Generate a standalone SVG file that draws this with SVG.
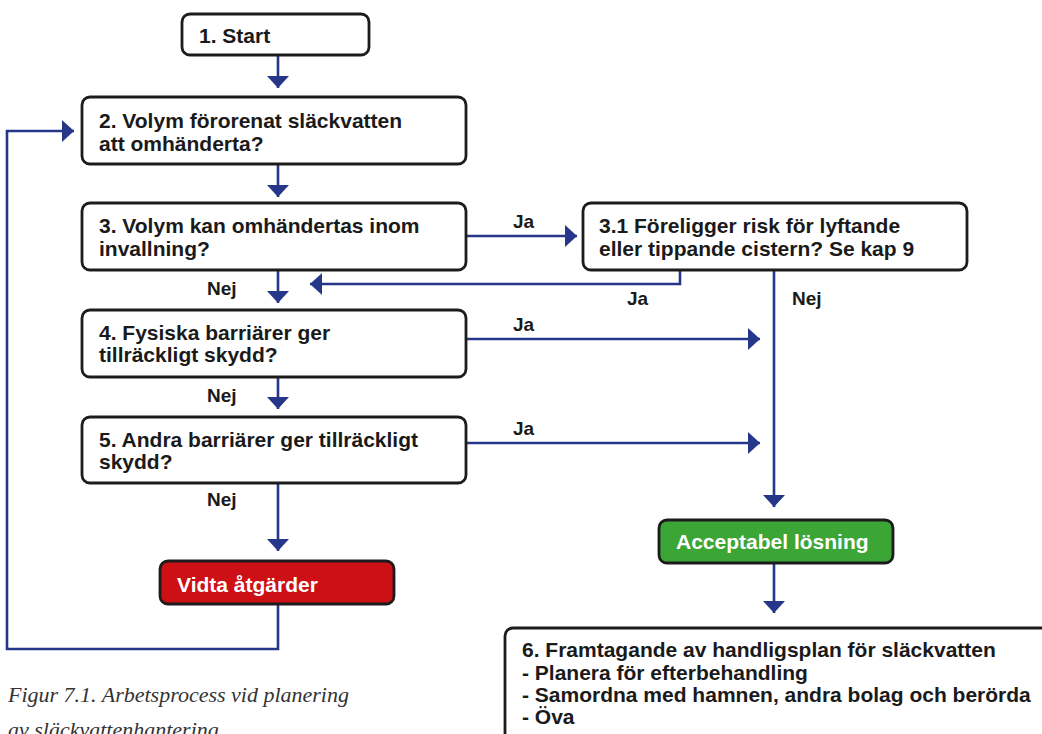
<svg xmlns="http://www.w3.org/2000/svg" width="1042" height="734" viewBox="0 0 1042 734">
<style>
.box{fill:#fff;stroke:#1c1c1c;stroke-width:2.8}
.red{fill:#cc1016;stroke:#1c1c1c;stroke-width:2.8}
.green{fill:#3ba535;stroke:#1c1c1c;stroke-width:2.8}
.t{font-family:"Liberation Sans",Arial,sans-serif;font-weight:bold;font-size:21px;fill:#1a1a1a}
.w{font-family:"Liberation Sans",Arial,sans-serif;font-weight:bold;font-size:21px;fill:#fff}
.lbl{font-family:"Liberation Sans",Arial,sans-serif;font-weight:bold;font-size:19px;fill:#1a1a1a}
.c{fill:none;stroke:#26378a;stroke-width:2.6}
.cap{font-family:"Liberation Serif","Times New Roman",serif;font-style:italic;font-size:22px;fill:#333}
</style>
<defs>
<marker id="ah" viewBox="0 0 12 22" refX="12" refY="11" markerWidth="12" markerHeight="22" orient="auto" markerUnits="userSpaceOnUse">
<path d="M0,0 L12,11 L0,22 z" fill="#26378a"/>
</marker>
</defs>
<rect width="1042" height="734" fill="#fff"/>
<g id="connectors">
<path class="c" d="M278,55 V88" marker-end="url(#ah)"/>
<path class="c" d="M278,164 V197" marker-end="url(#ah)"/>
<path class="c" d="M466,236 H577" marker-end="url(#ah)"/>
<path class="c" d="M278,270 V303" marker-end="url(#ah)"/>
<path class="c" d="M680,270 V284 H310" marker-end="url(#ah)"/>
<path class="c" d="M774,270 V507" marker-end="url(#ah)"/>
<path class="c" d="M466,339 H760" marker-end="url(#ah)"/>
<path class="c" d="M278,377 V409" marker-end="url(#ah)"/>
<path class="c" d="M466,443 H760" marker-end="url(#ah)"/>
<path class="c" d="M278,483 V551" marker-end="url(#ah)"/>
<path class="c" d="M278,604 V649 H7 V131 H74" marker-end="url(#ah)"/>
<path class="c" d="M774,563 V613" marker-end="url(#ah)"/>
<text class="lbl" x="513" y="228">Ja</text>
<text class="lbl" x="207" y="295">Nej</text>
<text class="lbl" x="627" y="305">Ja</text>
<text class="lbl" x="792" y="305">Nej</text>
<text class="lbl" x="513" y="331">Ja</text>
<text class="lbl" x="207" y="402">Nej</text>
<text class="lbl" x="513" y="435">Ja</text>
<text class="lbl" x="207" y="506">Nej</text>
</g>
<g id="n1">
<rect class="box" x="182" y="14" width="187" height="41" rx="8"/>
<text class="t" x="199" y="43">1. Start</text>
</g>
<g id="n2">
<rect class="box" x="82" y="97" width="384" height="67" rx="8"/>
<text class="t" x="99" y="128">2. Volym förorenat släckvatten</text>
<text class="t" x="99" y="151">att omhänderta?</text>
</g>
<g id="n3">
<rect class="box" x="82" y="203" width="384" height="67" rx="8"/>
<text class="t" x="99" y="233">3. Volym kan omhändertas inom</text>
<text class="t" x="99" y="256">invallning?</text>
</g>
<g id="n31">
<rect class="box" x="583" y="203" width="384" height="67" rx="8"/>
<text class="t" x="599" y="233">3.1 Föreligger risk för lyftande</text>
<text class="t" x="599" y="256">eller tippande cistern? Se kap 9</text>
</g>
<g id="n4">
<rect class="box" x="82" y="310" width="384" height="67" rx="8"/>
<text class="t" x="99" y="340">4. Fysiska barriärer ger</text>
<text class="t" x="99" y="362">tillräckligt skydd?</text>
</g>
<g id="n5">
<rect class="box" x="82" y="417" width="384" height="66" rx="8"/>
<text class="t" x="99" y="447">5. Andra barriärer ger tillräckligt</text>
<text class="t" x="99" y="469">skydd?</text>
</g>
<g id="vidta">
<rect class="red" x="160" y="561" width="234" height="43" rx="8"/>
<text class="w" x="177" y="592">Vidta åtgärder</text>
</g>
<g id="acceptabel">
<rect class="green" x="659" y="520" width="234" height="43" rx="8"/>
<text class="w" x="676" y="549">Acceptabel lösning</text>
</g>
<g id="n6">
<rect class="box" x="505" y="628" width="600" height="200" rx="8"/>
<text class="t" x="522" y="657">6. Framtagande av handligsplan för släckvatten</text>
<text class="t" x="522" y="680">- Planera för efterbehandling</text>
<text class="t" x="522" y="702">- Samordna med hamnen, andra bolag och berörda</text>
<text class="t" x="522" y="724">- Öva</text>
</g>
<g id="caption">
<text class="cap" x="8" y="702">Figur 7.1. Arbetsprocess vid planering</text>
<text class="cap" x="8" y="737">av släckvattenhantering</text>
</g>
</svg>
